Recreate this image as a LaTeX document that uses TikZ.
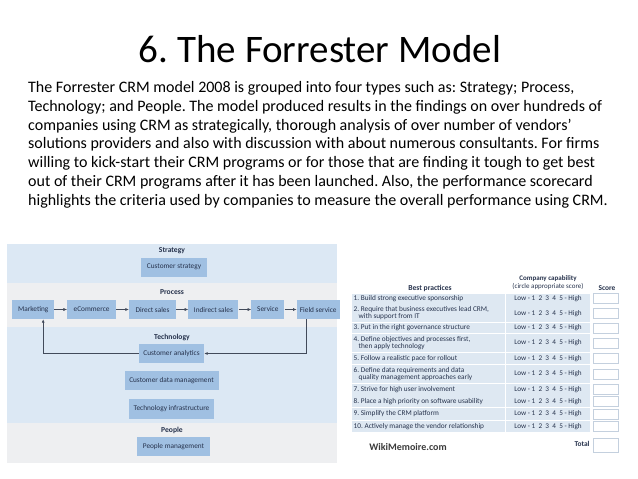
\documentclass[tikz,border=0pt]{standalone}
\usepackage{fontspec}
\setmainfont{Carlito}
\usetikzlibrary{positioning, arrows.meta}
\frenchspacing
\definecolor{bandblue}{RGB}{220,232,244}
\definecolor{bandgray}{RGB}{238,239,241}
\definecolor{boxblue}{RGB}{160,192,226}
\definecolor{inkblue}{RGB}{38,50,76}
\definecolor{rowblue}{RGB}{222,232,242}
\definecolor{scoreline}{RGB}{196,208,222}
\definecolor{arrowgray}{RGB}{66,74,90}
\definecolor{wikigray}{RGB}{58,58,58}

\begin{document}
\begin{tikzpicture}[
    x=1pt, y=-1pt,
    node distance=12.5pt,
    every node/.style={inner sep=0pt},
    stage/.style={
        rectangle,
        fill=boxblue,
        text=inkblue,
        align=center,
        minimum height=19pt,
        font=\fontsize{7.3}{8}\selectfont
    },
    bandlabel/.style={text=inkblue, font=\fontsize{7.6}{8}\selectfont\bfseries},
    practice/.style={text=inkblue, align=left, font=\fontsize{7.3}{6.9}\selectfont},
    capability/.style={text=inkblue, font=\fontsize{7.2}{7}\selectfont},
    header/.style={text=inkblue, align=center, font=\fontsize{7.4}{8}\selectfont},
    scorebox/.style={rectangle, fill=white, draw=scoreline, line width=0.6pt,
        minimum width=25pt, minimum height=10pt},
    flow/.style={-{Latex[length=3.5pt,width=3pt]}, thick, draw=arrowgray}
]
\useasboundingbox (0,0) rectangle (638,479);

% title and text
\node[anchor=base, font=\fontsize{39}{44}\selectfont] (title) at (320,62) {6. The Forrester Model};
\node[anchor=base west, align=left, font=\fontsize{16}{18.7}\selectfont] (intro) at (28,205)
{The Forrester CRM model 2008 is grouped into four types such as: Strategy; Process,\\
Technology; and People. The model produced results in the findings on over hundreds of\\
companies using CRM as strategically, thorough analysis of over number of vendors'\\
solutions providers and also with discussion with about numerous consultants. For firms\\
willing to kick-start their CRM programs or for those that are finding it tough to get best\\
out of their CRM programs after it has been launched. Also, the performance scorecard\\
highlights the criteria used by companies to measure the overall performance using CRM.};

% bands of the model
\fill[bandblue] (7,244) rectangle (337,283);
\fill[bandgray] (7,283) rectangle (337,327);
\fill[bandblue] (7,327) rectangle (337,423);
\fill[bandgray] (7,423) rectangle (337,463);

\node[bandlabel] (strategylbl) at (172,251) {Strategy};
\node[bandlabel] (processlbl) at (172,292) {Process};
\node[bandlabel] (technologylbl) at (172,337.5) {Technology};
\node[bandlabel] (peoplelbl) at (172,430) {People};

\node[stage, minimum width=66pt] (strategy) at (174,267) {Customer strategy};

\node[stage, minimum width=42pt, anchor=west] (mkt) at (12,309.5) {Marketing};
\node[stage, minimum width=49pt, right=of mkt] (ecom) {eCommerce};
\node[stage, minimum width=47pt, right=of ecom] (direct) {Direct sales};
\node[stage, minimum width=50pt, right=12pt of direct] (indirect) {Indirect sales};
\node[stage, minimum width=33pt, right=of indirect] (service) {Service};
\node[stage, minimum width=43pt, right=12pt of service] (field) {Field service};

\node[stage, minimum width=65pt] (analytics) at (171.5,353.5) {Customer analytics};
\node[stage, minimum width=94pt, below=8pt of analytics] (cdm) {Customer data management};
\node[stage, minimum width=85pt, minimum height=20pt, below=8pt of cdm] (infra) {Technology infrastructure};

\node[stage, minimum width=73pt] (people) at (173.5,446.5) {People management};

\draw[flow, thin] (mkt) -- (ecom);
\draw[flow, thin] (ecom) -- (direct);
\draw[flow, thin] (direct) -- (indirect);
\draw[flow, thin] (indirect) -- (service);
\draw[flow, thin] (service) -- (field);

\draw[flow] ([xshift=-12pt]field.south) |- (analytics.east);
\draw[flow] (analytics.west) -| ([xshift=10pt]mkt.south);

% scorecard
\node[header, font=\fontsize{7.6}{8}\selectfont\bfseries] (bphead) at (430,288.5) {Best practices};
\node[header, font=\fontsize{7}{8}\selectfont] (caphead) at (548,283) {\textbf{Company capability}\\(circle appropriate score)};
\node[header, font=\fontsize{7.4}{8}\selectfont\bfseries] (scorehead) at (607,288) {Score};

\foreach \r/\ya/\yb/\txt in {
    1/293.3/304/{1. Build strong executive sponsorship},
    2/304/322.3/{2. Require that business executives lead CRM,\\\hspace*{5pt}with support from IT},
    3/322.3/333.3/{3. Put in the right governance structure},
    4/333.3/352.3/{4. Define objectives and processes first,\\\hspace*{5pt}then apply technology},
    5/352.3/364.3/{5. Follow a realistic pace for rollout},
    6/364.3/383.3/{6. Define data requirements and data\\\hspace*{5pt}quality management approaches early},
    7/383.3/395/{7. Strive for high user involvement},
    8/395/407.7/{8. Place a high priority on software usability},
    9/407.7/420.3/{9. Simplify the CRM platform},
    10/420.3/432.7/{10. Actively manage the vendor relationship}}
{
    \fill[rowblue] (352,{\ya+0.4}) rectangle (505,{\yb-0.4});
    \fill[rowblue] (506,{\ya+0.4}) rectangle (590,{\yb-0.4});
    \node[practice, anchor=west] (bp\r) at (353.5,{(\ya+\yb)/2}) {\txt};
    \node[capability] (cap\r) at (548,{(\ya+\yb)/2}) {Low - 1\ \ 2\ \ 3\ \ 4\ \ 5 - High};
    \node[scorebox] (score\r) at (605.5,{(\ya+\yb)/2}) {};
}

\node[scorebox, minimum height=14pt] (totalbox) at (605.5,445) {};
\node[header, font=\fontsize{7.4}{8}\selectfont\bfseries, left=3pt of totalbox.north west, anchor=north east, yshift=-3pt] (total) {Total};
\node[text=wikigray, font=\fontsize{10}{12}\selectfont\bfseries] (wiki) at (408,447) {WikiMemoire.com};

\end{tikzpicture}
\end{document}
